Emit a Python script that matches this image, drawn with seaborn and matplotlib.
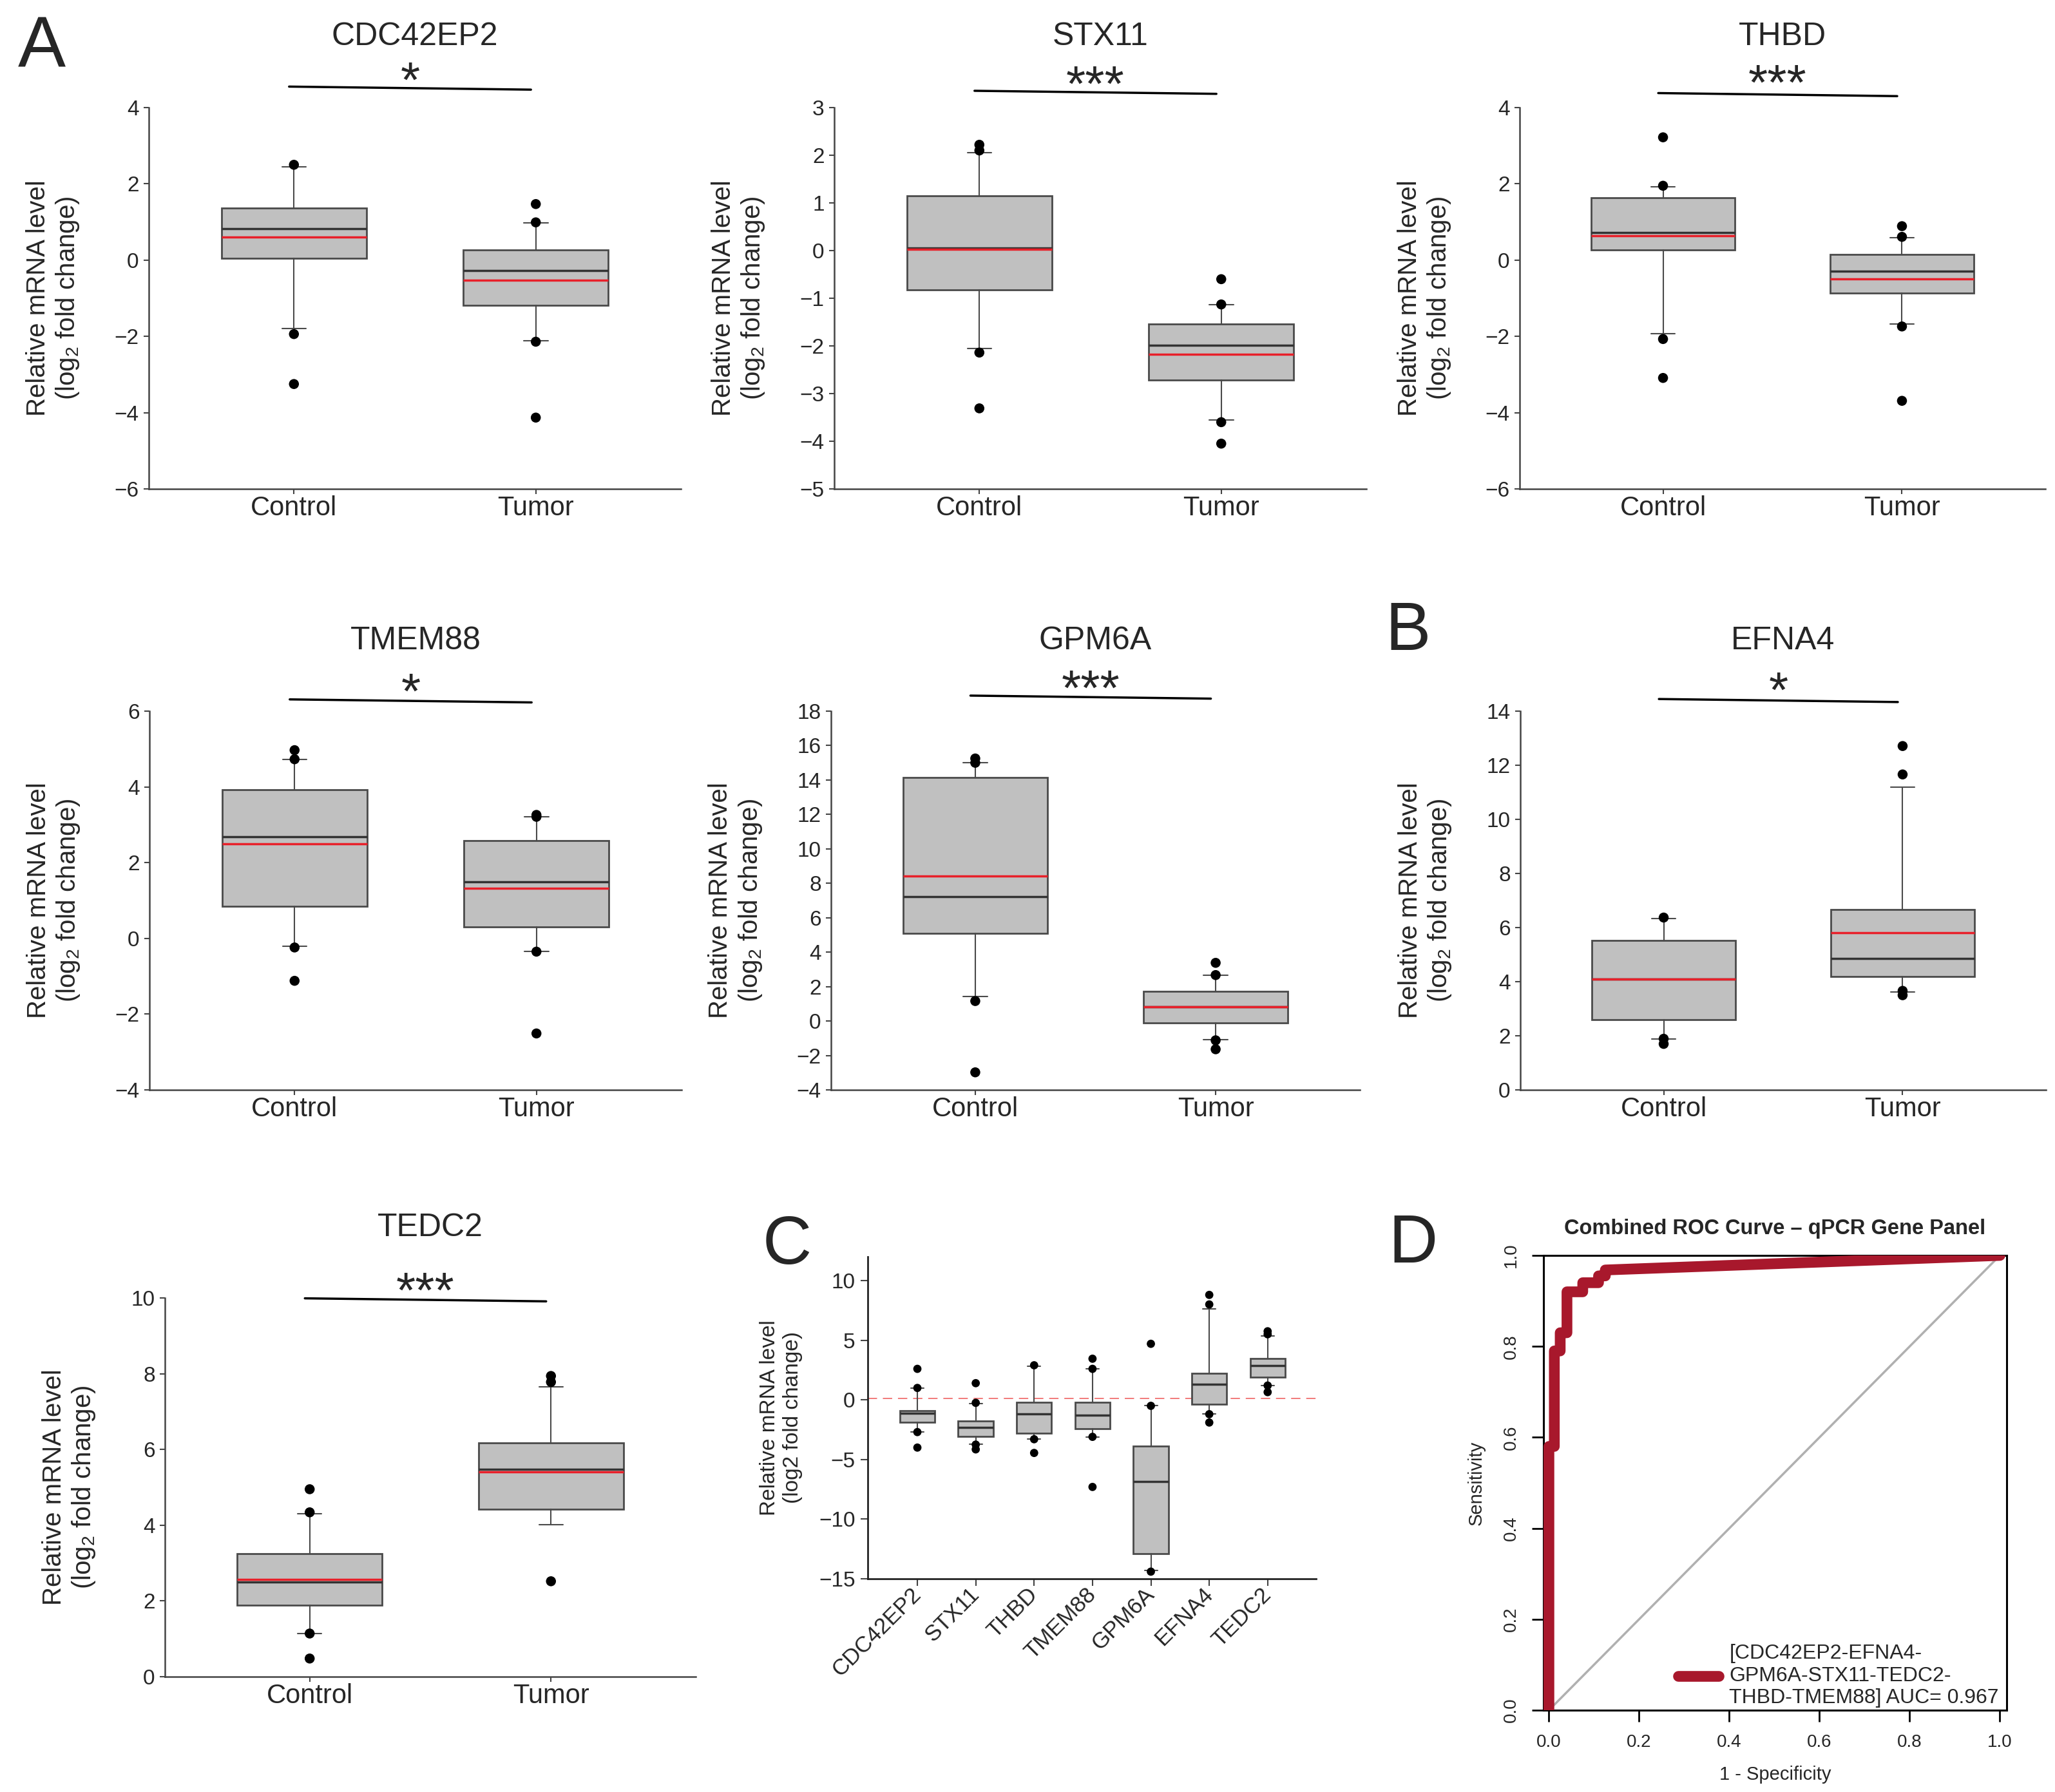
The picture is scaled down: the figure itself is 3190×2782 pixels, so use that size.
import numpy as np
import pandas as pd
import seaborn as sns
import matplotlib.pyplot as plt
import matplotlib.transforms as mtransforms

# ---------------- data ----------------
genes = ['CDC42EP2', 'STX11', 'THBD', 'TMEM88', 'GPM6A', 'EFNA4', 'TEDC2']
groups = ['Control', 'Tumor']
sig_marks = ['*', '***', '***', '*', '***', '*', '***']

# Control group box statistics (per gene, same order as genes)
ctrl_q1 = [0.04, -0.82, 0.27, 0.84, 5.09, 2.59, 1.89]
ctrl_med = [0.82, 0.05, 0.73, 2.68, 7.24, 4.1, 2.5]
ctrl_mean = [0.6, 0.03, 0.64, 2.5, 8.44, 4.1, 2.56]
ctrl_q3 = [1.36, 1.15, 1.64, 3.93, 14.15, 5.52, 3.24]
ctrl_lo = [-1.79, -2.06, -1.93, -0.21, 1.41, 1.89, 1.14]
ctrl_hi = [2.44, 2.05, 1.93, 4.73, 15.01, 6.33, 4.3]
ctrl_out = [[2.5, -1.94, -3.25], [2.22, 2.1, -2.14, -3.31], [3.22, 1.95, -2.07, -3.09],
            [4.97, 4.73, -0.24, -1.12], [15.25, 15.0, 1.16, -2.98], [6.37, 1.89, 1.7],
            [4.95, 4.34, 1.14, 0.48]]

# Tumor group box statistics
tum_q1 = [-1.19, -2.72, -0.87, 0.31, -0.11, 4.2, 4.43]
tum_med = [-0.28, -1.99, -0.29, 1.49, 0.82, 4.85, 5.47]
tum_mean = [-0.52, -2.18, -0.49, 1.33, 0.82, 5.8, 5.4]
tum_q3 = [0.27, -1.54, 0.15, 2.59, 1.73, 6.66, 6.18]
tum_lo = [-2.11, -3.56, -1.68, -0.34, -1.09, 3.63, 4.02]
tum_hi = [0.97, -1.13, 0.59, 3.21, 2.67, 11.2, 7.66]
tum_out = [[1.47, 0.99, -2.14, -4.13], [-0.6, -1.13, -3.6, -4.05], [0.89, 0.61, -1.74, -3.69],
           [3.26, 3.21, -0.35, -2.51], [3.38, 2.67, -1.12, -1.64], [12.71, 11.66, 3.66, 3.5],
           [7.94, 7.78, 2.52]]

# panel C: tumor vs control per gene
c_q1 = [-1.9, -3.07, -2.8, -2.4, -12.9, -0.35, 1.9]
c_med = [-1.1, -2.3, -1.17, -1.3, -6.85, 1.3, 2.85]
c_q3 = [-0.92, -1.75, -0.2, -0.2, -3.9, 2.2, 3.45]
c_lo = [-2.7, -3.7, -3.3, -3.1, -14.3, -1.15, 1.2]
c_hi = [1.0, -0.3, 2.8, 2.6, -0.5, 7.6, 5.35]
c_out = [[2.6, 1.0, -2.7, -4.0], [1.4, -0.25, -3.75, -4.15], [2.9, -3.3, -4.45],
         [3.45, 2.6, -3.1, -7.3], [4.7, -0.5, -14.4], [8.8, 8.0, -1.2, -1.9],
         [5.75, 5.5, 1.2, 0.65]]
c_ref_line = 0.12

# panel D: combined ROC curve
roc_fpr = [0.0, 0.0, 0.012, 0.012, 0.025, 0.025, 0.04, 0.04, 0.075, 0.075, 0.11, 0.11, 0.125, 0.125, 1.0]
roc_tpr = [0.0, 0.58, 0.58, 0.79, 0.79, 0.83, 0.83, 0.92, 0.92, 0.94, 0.94, 0.955, 0.955, 0.968, 1.0]
roc_label = '[CDC42EP2-EFNA4-\nGPM6A-STX11-TEDC2-\nTHBD-TMEM88] AUC= 0.967'

# ---------------- layout ----------------
box_rects = [(231, 1057, 167, 759), (1295, 2121, 167, 759), (2359, 3175, 167, 759),
             (232, 1058, 1104, 1692), (1290, 2111, 1104, 1692), (2360, 3176, 1104, 1692),
             (256, 1080, 2015, 2603)]
y_limits = [(-6, 4), (-5, 3), (-6, 4), (-4, 6), (-4, 18), (0, 14), (0, 10)]
y_steps = [2, 1, 2, 2, 2, 2, 2]
sig_line_y = [1.051, 1.040, 1.034, 1.027, 1.037, 1.028, 0.995]
sig_star_y = [1.076, 1.066, 1.070, 1.056, 1.065, 1.060, 1.024]

sns.set_style('ticks')
plt.rcParams['font.family'] = ['Liberation Sans', 'DejaVu Sans']
plt.rcParams['mathtext.fontset'] = 'custom'
plt.rcParams['mathtext.rm'] = 'Liberation Sans'
plt.rcParams['mathtext.it'] = 'Liberation Sans:italic'
plt.rcParams['mathtext.bf'] = 'Liberation Sans:bold'

W, H = 3190, 2782
fig = plt.figure(figsize=(W / 100, H / 100), dpi=100)


def add_ax(l, r, t, b):
    return fig.add_axes([l / W, 1 - b / H, (r - l) / W, (b - t) / H])


box_style = dict(
    boxprops=dict(facecolor='#c0c0c0', edgecolor='#4a4a4a', linewidth=2),
    medianprops=dict(color='#333333', linewidth=2.5),
    whiskerprops=dict(color='#4a4a4a', linewidth=1.5),
    capprops=dict(color='#4a4a4a', linewidth=1.5),
)
edge = '#444444'

# ---------------- panels A and B: control vs tumor ----------------
for i, gene in enumerate(genes):
    ax = add_ax(*box_rects[i])
    stats = [
        dict(label='Control', q1=ctrl_q1[i], med=ctrl_med[i], mean=ctrl_mean[i], q3=ctrl_q3[i],
             whislo=ctrl_lo[i], whishi=ctrl_hi[i], fliers=[]),
        dict(label='Tumor', q1=tum_q1[i], med=tum_med[i], mean=tum_mean[i], q3=tum_q3[i],
             whislo=tum_lo[i], whishi=tum_hi[i], fliers=[]),
    ]
    ax.bxp(stats, positions=[0, 1], widths=0.6, capwidths=0.1, patch_artist=True,
           showmeans=True, meanline=True, showfliers=False,
           meanprops=dict(color='#e8202a', linewidth=2.5, linestyle='-', zorder=4),
           **box_style)
    out = pd.DataFrame({'x': [0] * len(ctrl_out[i]) + [1] * len(tum_out[i]),
                        'y': ctrl_out[i] + tum_out[i]})
    sns.scatterplot(data=out, x='x', y='y', color='black', s=125, edgecolor='none',
                    ax=ax, zorder=5, legend=False)

    ax.set_xlim(-0.6, 1.6)
    ax.set_ylim(*y_limits[i])
    lo, hi = y_limits[i]
    ax.set_yticks(np.arange(lo, hi + 0.01, y_steps[i]))
    ax.set_xticks([0, 1])
    ax.set_xticklabels(groups, fontsize=30)
    ax.tick_params(axis='y', labelsize=24, pad=5)
    ax.tick_params(axis='x', pad=1)
    ax.tick_params(length=6, width=1.5, color=edge)
    ax.set_xlabel('')
    ax.set_ylabel('Relative mRNA level\n(log$_2$ fold change)', fontsize=29)
    ax.yaxis.set_label_coords(-0.127, 0.5)
    sns.despine(ax=ax)
    for s in ['left', 'bottom']:
        ax.spines[s].set_color(edge)
        ax.spines[s].set_linewidth(1.8)

    ax.set_title(gene, fontsize=36, y=1.172, va='center')
    tr = ax.get_xaxis_transform()
    ax.plot([-0.02, 0.98], [sig_line_y[i] + 0.004, sig_line_y[i] - 0.004], color='black',
            lw=2.5, transform=tr, clip_on=False)
    star_tr = mtransforms.offset_copy(tr, fig=fig, y=-29, units='dots')
    ax.text(0.48, sig_star_y[i], sig_marks[i], transform=star_tr, ha='center',
            va='baseline', fontsize=56)

# ---------------- panel C ----------------
axc = add_ax(1347, 2043, 1951, 2451)
c_stats = [dict(label=g, q1=c_q1[k], med=c_med[k], q3=c_q3[k], whislo=c_lo[k],
                whishi=c_hi[k], fliers=[]) for k, g in enumerate(genes)]
axc.bxp(c_stats, positions=range(len(genes)), widths=0.6, capwidths=0.22,
        patch_artist=True, showfliers=False, **box_style)
c_df = pd.DataFrame({'x': [k for k in range(len(genes)) for _ in c_out[k]],
                     'y': [v for k in range(len(genes)) for v in c_out[k]]})
sns.scatterplot(data=c_df, x='x', y='y', color='black', s=85, edgecolor='none',
                ax=axc, zorder=5, legend=False)
axc.axhline(c_ref_line, color='#f07070', lw=1.3, dashes=(8, 5), zorder=1)
axc.set_xlim(-0.85, 6.83)
axc.set_ylim(-15, 12)
axc.set_yticks([-15, -10, -5, 0, 5, 10])
axc.set_xticks(range(len(genes)))
axc.set_xticklabels(genes, rotation=45, ha='right', va='center', rotation_mode='anchor',
                    fontsize=25)
axc.tick_params(axis='y', labelsize=24)
axc.tick_params(length=8, width=1.5, color=edge, pad=6)
axc.set_xlabel('')
axc.set_ylabel('Relative mRNA level\n(log2 fold change)', fontsize=24)
axc.yaxis.set_label_coords(-0.145, 0.5)
sns.despine(ax=axc)
for s in ['left', 'bottom']:
    axc.spines[s].set_color('#222222')
    axc.spines[s].set_linewidth(2)

# ---------------- panel D ----------------
axd = add_ax(2396, 3115, 1949, 2655)
axd.plot([0, 1], [0, 1], color='#b0b0b0', lw=2.5, zorder=1)
sns.lineplot(x=roc_fpr, y=roc_tpr, sort=False, estimator=None, color='#a8182c', lw=12,
             ax=axd, label=roc_label, zorder=3)
axd.set_xlim(-0.012, 1.015)
axd.set_ylim(0, 1.0)
axd.set_xticks(np.arange(0, 1.01, 0.2))
axd.set_yticks(np.arange(0, 1.01, 0.2))
axd.set_xticklabels(['0.0', '0.2', '0.4', '0.6', '0.8', '1.0'])
axd.set_yticklabels(['0.0', '0.2', '0.4', '0.6', '0.8', '1.0'], rotation=90, va='center')
axd.tick_params(labelsize=20, length=13, width=2, color='black', pad=14)
for s in axd.spines.values():
    s.set_color('black')
    s.set_linewidth(2.2)
axd.set_xlabel('1 - Specificity', fontsize=21, labelpad=16)
axd.set_ylabel('Sensitivity', fontsize=21)
axd.yaxis.set_label_coords(-0.125, 0.5)
axd.set_title('Combined ROC Curve – qPCR Gene Panel', fontsize=23.5, fontweight='bold',
              pad=24)
axd.legend(loc='lower left', bbox_to_anchor=(0.29, 0.005), frameon=False, fontsize=23,
           handlelength=2.0, handletextpad=0.5, borderpad=0, borderaxespad=0)

# ---------------- panel letters ----------------
fig.text(28 / W, 1 - 104 / H, 'A', fontsize=80, va='baseline', ha='left')
fig.text(2150 / W, 1 - 1009 / H, 'B', fontsize=76, va='baseline', ha='left')
fig.text(1184 / W, 1 - 1962 / H, 'C', fontsize=76, va='baseline', ha='left')
fig.text(2155 / W, 1 - 1960 / H, 'D', fontsize=76, va='baseline', ha='left')

fig.savefig('out.png', dpi=100)
